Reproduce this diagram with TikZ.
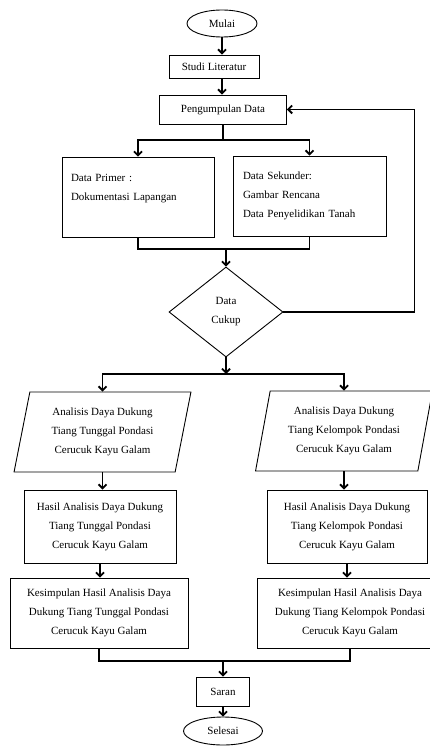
\documentclass[tikz,border=0pt]{standalone}
\usepackage{fontspec}
\setmainfont{Liberation Serif}
\usetikzlibrary{shapes.geometric,arrows.meta}

\begin{document}
\begin{tikzpicture}[x=1pt, y=-1pt,
    every node/.style={font=\fontsize{11}{19}\selectfont, align=center, inner sep=0pt},
    box/.style={rectangle, draw, line width=0.9pt},
    term/.style={ellipse, draw, line width=0.9pt},
    iobox/.style={trapezium, trapezium left angle=77, trapezium right angle=103, trapezium stretches=true, draw, line width=0.9pt},
    decide/.style={diamond, draw, line width=0.9pt},
    link/.style={line width=1.8pt},
    flow/.style={link, -{Straight Barb[length=4pt, width=8pt]}}]
                        \useasboundingbox (0,0) rectangle (430,746);

                        \node[term, minimum width=70, minimum height=27] (mulai) at (222,23.5) {Mulai};
                        \node[box, minimum width=90, minimum height=23] (studi) at (214,66.5) {Studi Literatur};
                        \node[box, minimum width=127, minimum height=29] (kumpul) at (223,109.5) {Pengumpulan Data};
                        \node[box, minimum width=152, minimum height=80, text width=134, align=left] (primer) at (138,197) {Data Primer :\\Dokumentasi Lapangan\\\mbox{}};
                        \node[box, minimum width=153, minimum height=80, text width=133, align=left] (sekunder) at (309.5,196) {Data Sekunder:\\Gambar Rencana\\Data Penyelidikan Tanah};
                        \node[decide, minimum width=114, minimum height=90] (cukup) at (226,312) {Data\\Cukup};

                        \node[iobox, minimum width=177, minimum height=80] (analisis1) at (102.5,432) {Analisis Daya Dukung\\Tiang Tunggal Pondasi\\Cerucuk Kayu Galam};
                        \node[iobox, minimum width=177, minimum height=80] (analisis2) at (344,431) {Analisis Daya Dukung\\Tiang Kelompok Pondasi\\Cerucuk Kayu Galam};
                        \node[box, minimum width=152, minimum height=73] (hasil1) at (100,526.5) {Hasil Analisis Daya Dukung\\Tiang Tunggal Pondasi\\Cerucuk Kayu Galam};
                        \node[box, minimum width=160, minimum height=73] (hasil2) at (347,526.5) {Hasil Analisis Daya Dukung\\Tiang Kelompok Pondasi\\Cerucuk Kayu Galam};
                        \node[box, minimum width=178, minimum height=70] (kesimpulan1) at (99,613) {Kesimpulan Hasil Analisis Daya\\Dukung Tiang Tunggal Pondasi\\Cerucuk Kayu Galam};
                        \node[box, minimum width=186, minimum height=70] (kesimpulan2) at (350,613) {Kesimpulan Hasil Analisis Daya\\Dukung Tiang Kelompok Pondasi\\Cerucuk Kayu Galam};
                        \node[box, minimum width=53, minimum height=29] (saran) at (223,691.5) {Saran};
                        \node[term, minimum width=79, minimum height=28] (selesai) at (223,731) {Selesai};

                        \coordinate (split1) at (223,140);
                        \coordinate (join1) at (226,249);
                        \coordinate (split2) at (226,374);
                        \coordinate (join2) at (223,661);

                        \draw[flow] (mulai.south) -- (mulai.south |- studi.north);
                        \draw[flow] (mulai.south |- studi.south) -- (mulai.south |- kumpul.north);
                        \draw[link] (kumpul.south) -- (split1);
                        \draw[flow] (split1) -| (primer.north);
                        \draw[flow] (split1) -| (sekunder.north);
                        \draw[link] (primer.south) |- (join1);
                        \draw[link] (sekunder.south) |- (join1);
                        \draw[flow] (join1) -- (cukup.north);
                        \draw[flow] (cukup.east) -- ++(131,0) |- (kumpul.east);
                        \draw[flow] (cukup.south) -- (split2);
                        \draw[flow] (split2) -| (analisis1.north);
                        \draw[flow] (split2) -| (analisis2.north);
                        \draw[flow] (analisis1.south) -- (analisis1.south |- hasil1.north);
                        \draw[flow] (analisis2.south) -- (analisis2.south |- hasil2.north);
                        \draw[flow] (hasil1.south) -- (hasil1.south |- kesimpulan1.north);
                        \draw[flow] (hasil2.south) -- (hasil2.south |- kesimpulan2.north);
                        \draw[link] (kesimpulan1.south) |- (join2);
                        \draw[link] (kesimpulan2.south) |- (join2);
                        \draw[flow] (join2) -- (saran.north);
                        \draw[flow] (saran) -- (selesai);
                    \end{tikzpicture}
\end{document}
